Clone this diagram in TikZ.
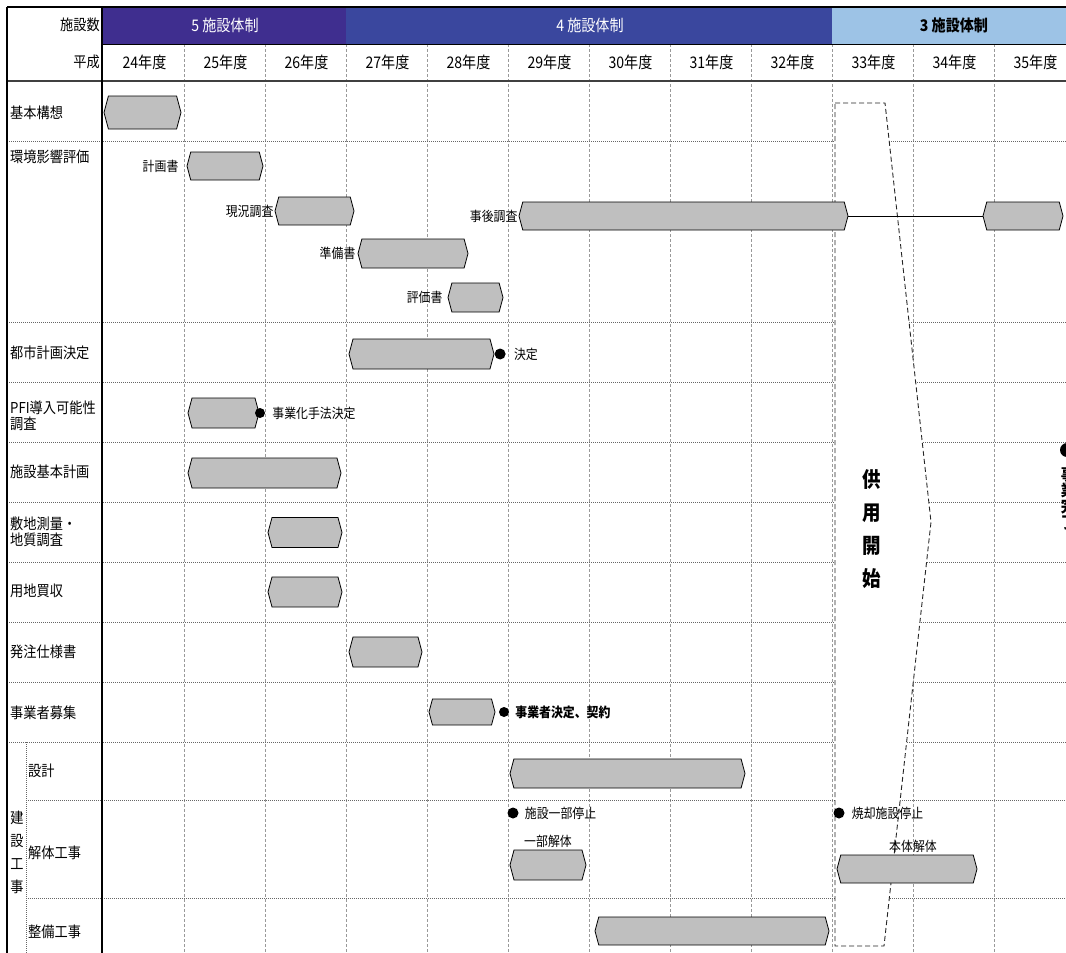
\documentclass[tikz,border=0pt]{standalone}
\usepackage{fontspec}
\setmainfont{Noto Sans CJK JP}[FakeStretch=0.88]
\usepackage{tikz}
\usetikzlibrary{positioning,shapes.symbols}
\definecolor{bandfive}{HTML}{3F2E8F}
\definecolor{bandfour}{HTML}{3A479E}
\definecolor{bandthree}{HTML}{9DC3E6}
\definecolor{barfill}{HTML}{BFBFBF}

\begin{document}
\begin{tikzpicture}[x=1pt,y=-1pt,every node/.style={inner sep=0pt,font=\fontsize{13.5}{15}\selectfont},
  gbar/.style={signal,signal to=east and west,signal pointer angle=150,draw=black,fill=barfill,line width=0.8pt,minimum height=#1},
  gbar/.default=28,
  dot/.style={circle,fill=black,minimum size=11pt},
  rowlab/.style={anchor=west,align=left,font=\fontsize{15}{16}\selectfont},
  yearlab/.style={font=\fontsize{16}{18}\selectfont},
  vgrid/.style={black!40,dash pattern=on 3pt off 2pt,line width=0.6pt},
  hgrid/.style={black!60,dash pattern=on 1pt off 1pt,line width=0.9pt}]
\useasboundingbox (0,0) rectangle (1066,953);
\clip (0,0) rectangle (1066,953);
% header bands
\fill[bandfive] (102,7) rectangle (346,44);
\fill[bandfour] (346,7) rectangle (832,44);
\fill[bandthree] (832,7) rectangle (1066,44);
% grid
\foreach \x in {184,265,...,994} \draw[vgrid] (\x,44) -- (\x,953);
\foreach \y in {141,322,382,442,502,562,622,682,742} \draw[hgrid] (7,\y) -- (1066,\y);
\foreach \y in {800,898} \draw[hgrid] (26,\y) -- (1066,\y);
\draw[hgrid] (26,742) -- (26,953);
% start of service
\draw[black!85,fill=white,dash pattern=on 5pt off 3pt,line width=0.9pt] (835,103) -- (885,103) -- (931,522) -- (884,946) -- (835,946) -- cycle;
% frame
\draw[black,line width=1pt] (102,44) -- (1066,44);
\draw[black!75,line width=1.5pt] (7,81) -- (1066,81);
\draw[black,line width=2pt] (7,7) -- (1066,7);
\draw[black,line width=1.2pt] (7,7) -- (7,953);
\draw[black,line width=1.8pt] (102,7) -- (102,953);
% header text
\node[anchor=east,font=\fontsize{15}{16}\selectfont] (hdrcount) at (100,25) {施設数};
\node[anchor=east,font=\fontsize{15}{16}\selectfont] (hdrera) at (100,62) {平成};
\node[yearlab,text=white] (bfive) at (225,25) {5 施設体制};
\node[yearlab,text=white] (bfour) at (590,25) {4 施設体制};
\node[yearlab,font=\fontsize{16}{18}\selectfont\bfseries] (bthree) at (954,25) {3 施設体制};
\foreach \yr [count=\i from 0] in {24,...,35}
  \node[yearlab] (yr\yr) at ({144.5+81*\i},62) {{\yr}年度};
% row labels
\node[rowlab] (lkihon) at (10,113) {基本構想};
\node[rowlab] (lkankyo) at (10,157) {環境影響評価};
\node[rowlab] (ltoshi) at (10,353) {都市計画決定};
\node[rowlab] (lpfi) at (10,416) {PFI導入可能性\\調査};
\node[rowlab] (lshisetsu) at (10,472) {施設基本計画};
\node[rowlab] (lsokuryo) at (10,532) {敷地測量・\\地質調査};
\node[rowlab] (lyochi) at (10,591) {用地買収};
\node[rowlab] (lhacchu) at (10,652) {発注仕様書};
\node[rowlab] (lboshu) at (10,713) {事業者募集};
\node[rowlab] (lsekkei) at (28,771) {設計};
\node[rowlab] (lkaitai) at (28,853) {解体工事};
\node[rowlab] (lseibi) at (28,932) {整備工事};
\node[align=center,font=\fontsize{15}{23}\selectfont] (lkensetsu) at (17,852) {建\\設\\工\\事};
% bars
\node[gbar=33,minimum width=77] (kihon) at (142.5,112.5) {};
\node[gbar,minimum width=76] (keikaku) at (225,166) {};
\node[gbar,minimum width=79] (genkyo) at (314.5,211) {};
\node[gbar=29,minimum width=110] (junbi) at (413,253.5) {};
\node[gbar=29,minimum width=55] (hyoka) at (475.5,297.5) {};
\node[gbar,minimum width=329] (jigo) at (683.5,216) {};
\node[gbar,minimum width=80] (jigob) at (1023,216) {};
\draw[line width=1pt] (jigo.east) -- (jigob.west);
\node[gbar=30,minimum width=145] (toshi) at (421.5,354) {};
\node[gbar=30,minimum width=71] (pfi) at (223.5,413) {};
\node[gbar=30,minimum width=153] (kihonkeikaku) at (264.5,473) {};
\node[gbar=30,minimum width=74] (sokuryo) at (305,532.5) {};
\node[gbar=30,minimum width=74] (yochi) at (305,592) {};
\node[gbar=30,minimum width=73] (hacchu) at (385.5,652) {};
\node[gbar=26,minimum width=66] (boshu) at (462,712) {};
\node[gbar=29,minimum width=235] (sekkei) at (627.5,773.5) {};
\node[gbar=30,minimum width=76] (ichibu) at (548,865) {};
\node[gbar,minimum width=140] (hontai) at (907,869) {};
\node[gbar,minimum width=234] (seibi) at (712,931) {};
% bar labels
\node[left=8pt of keikaku] (tkeikaku) {計画書};
\node[left=1pt of genkyo] (tgenkyo) {現況調査};
\node[left=2pt of junbi] (tjunbi) {準備書};
\node[left=5pt of hyoka] (thyoka) {評価書};
\node[left=1pt of jigo] (tjigo) {事後調査};
\node[above=2pt of ichibu] (tichibu) {一部解体};
\node (thontai) at (913,846) {本体解体};
% milestones
\node[dot,right=0pt of toshi] (dtoshi) {};
\node[right=8pt of dtoshi] (ttoshi) {決定};
\node[dot,minimum size=10pt] (dpfi) at (260,413) {};
\node[right=7pt of dpfi] (tpfi) {事業化手法決定};
\node[dot,minimum size=10pt] (dboshu) at (504,712) {};
\node[right=6pt of dboshu,font=\fontsize{13.5}{15}\selectfont\bfseries] (tboshu) {事業者決定、契約};
\node[dot] (dteishi) at (513,813) {};
\node[right=6pt of dteishi] (tteishi) {施設一部停止};
\node[dot] (dshokyaku) at (839,813) {};
\node[right=7pt of dshokyaku] (tshokyaku) {焼却施設停止};
\node[dot,minimum size=14pt] (dkanryo) at (1067,450) {};
\node[align=center,font=\fontsize{16}{16}\selectfont\bfseries] (tkanryo) at (1068,498) {事\\業\\完\\了};
\node[align=center,font=\fontsize{21}{33}\selectfont\bfseries] (kyoyo) at (872,529) {供\\用\\開\\始};
\end{tikzpicture}
\end{document}
